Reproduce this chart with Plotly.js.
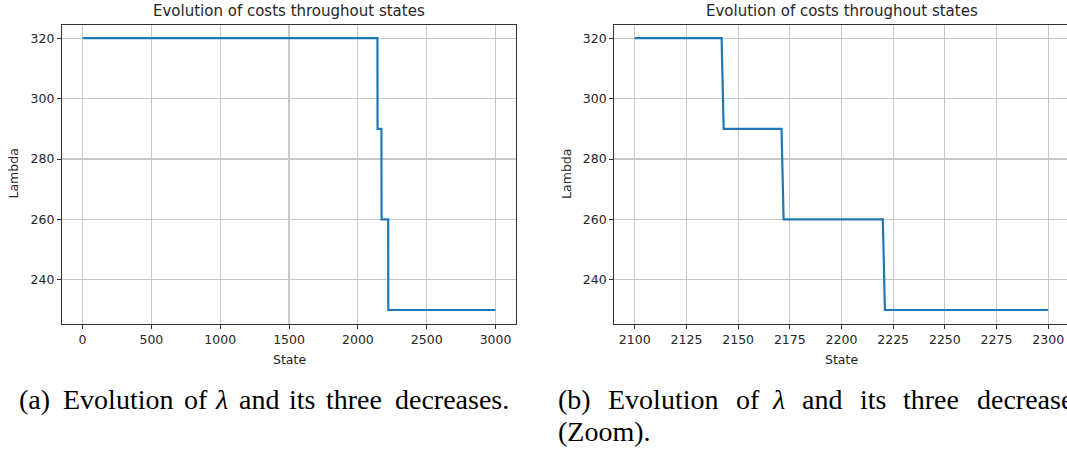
<!DOCTYPE html>
<html><head><meta charset="utf-8">
<script src="https://cdn.plot.ly/plotly-3.0.1.min.js"></script>
<style>html,body{margin:0;padding:0;background:#fff;overflow:hidden}#chart{width:1067px;height:451px}</style>
</head><body><div id="chart"></div>
<script>
// ---- data ----
const states = [0, 2142, 2143, 2171, 2172, 2220, 2221, 3000];
const lambdaValues = [320, 320, 290, 290, 260, 260, 230, 230];
const zoomStates = [2100, 2142, 2143, 2171, 2172, 2220, 2221, 2300];
const zoomLambda = [320, 320, 290, 290, 260, 260, 230, 230];
const xTicksFull = [0, 500, 1000, 1500, 2000, 2500, 3000];
const xTicksZoom = [2100, 2125, 2150, 2175, 2200, 2225, 2250, 2275, 2300];
const yTicks = [240, 260, 280, 300, 320];
const plotTitle = 'Evolution of costs throughout states';
const xLabel = 'State';
const yLabel = 'Lambda';
const captionAWords = ['(a)', 'Evolution', 'of', '<i>λ</i>', 'and', 'its', 'three', 'decreases.'];
const captionBWords = ['(b)', 'Evolution', 'of', '<i>λ</i>', 'and', 'its', 'three', 'decreases.'];
const captionBLine2 = '(Zoom).';

// ---- layout helpers (pixel -> paper) ----
const W = 1067, H = 451;
const px = x => x / W, py = y => 1 - y / H;
const sans = 'DejaVu Sans, sans-serif';
const serif = 'Liberation Serif, Times New Roman, serif';
const ink = '#262626';
const blue = '#1f77b4';

const axisCommon = {
  showgrid: true, gridcolor: '#c9c9c9', gridwidth: 1.1,
  zeroline: false, showline: true, linecolor: '#333', linewidth: 1,
  ticks: 'outside', ticklen: 4, tickwidth: 1, tickcolor: '#333',
  tickfont: {family: sans, size: 12.5, color: ink}, fixedrange: true
};

const yDomain = [py(323.6), py(24.6)];
const layout = {
  width: W, height: H, margin: {l: 0, r: 0, t: 0, b: 0},
  paper_bgcolor: '#fff', plot_bgcolor: '#fff', showlegend: false,
  xaxis: Object.assign({}, axisCommon, {domain: [px(61.9), px(516.2)], range: [-150, 3150],
    tickvals: xTicksFull, ticktext: xTicksFull.map(String), mirror: true, anchor: 'y'}),
  yaxis: Object.assign({}, axisCommon, {domain: yDomain, range: [225.5, 324.5],
    tickvals: yTicks, ticktext: yTicks.map(String), mirror: true, anchor: 'x'}),
  xaxis2: Object.assign({}, axisCommon, {domain: [px(614.1), 1], range: [2090, 2309.1],
    tickvals: xTicksZoom, ticktext: xTicksZoom.map(String), mirror: true, anchor: 'y2'}),
  yaxis2: Object.assign({}, axisCommon, {domain: yDomain, range: [225.5, 324.5],
    tickvals: yTicks, ticktext: yTicks.map(String), mirror: false, anchor: 'x2'}),
  annotations: []
};

function ann(text, x, y, opts) {
  layout.annotations.push(Object.assign({
    text: text, x: px(x), y: py(y), xref: 'paper', yref: 'paper',
    showarrow: false, xanchor: 'center', yanchor: 'middle',
    font: {family: sans, size: 12.5, color: ink}
  }, opts || {}));
}
// titles and axis titles
ann(plotTitle, 289, 11.2, {font: {family: sans, size: 15, color: ink}});
ann(plotTitle, 841.5, 11.2, {font: {family: sans, size: 15, color: ink}});
ann(xLabel, 289, 359);
ann(xLabel, 841.5, 359);
ann(yLabel, 13.5, 174, {textangle: -90});
ann(yLabel, 566.9, 174, {textangle: -90});

// captions (word positions mimic LaTeX justification)
const capA_x = [18, 62, 183, 214, 238, 288, 325, 394];
const capB_x = [557, 607, 735, 771, 801, 859, 902, 976];
const capFont = {family: serif, size: 28, color: '#000'};
captionAWords.forEach((w, i) => ann(w, capA_x[i] - 1, 399, {xanchor: 'left', font: capFont}));
captionBWords.forEach((w, i) => ann(w, capB_x[i] - 1, 399, {xanchor: 'left', font: capFont}));
ann(captionBLine2, 556, 431, {xanchor: 'left', font: capFont});

const traces = [
  {x: states, y: lambdaValues, xaxis: 'x', yaxis: 'y', type: 'scatter', mode: 'lines',
   line: {color: blue, width: 2.2}, hoverinfo: 'skip'},
  {x: zoomStates, y: zoomLambda, xaxis: 'x2', yaxis: 'y2', type: 'scatter', mode: 'lines',
   line: {color: blue, width: 2.2}, hoverinfo: 'skip'}
];
Plotly.newPlot('chart', traces, layout, {staticPlot: true, displayModeBar: false});
</script>
</body></html>
